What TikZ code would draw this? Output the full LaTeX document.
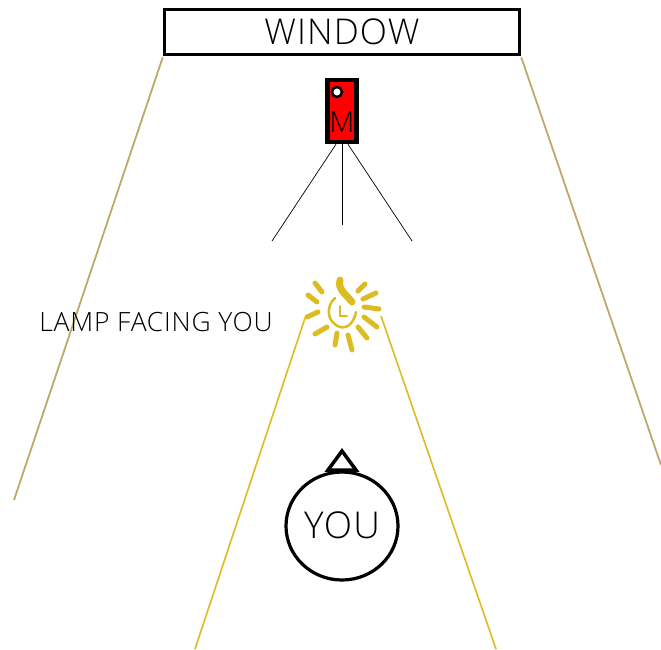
\documentclass[tikz,border=0pt]{standalone}
\usepackage{fontspec}
\setmainfont[LetterSpace=3]{Open Sans Light}
\usepackage{xcolor}
\definecolor{lampyellow}{HTML}{DDBB22}
\definecolor{walltan}{HTML}{BFA86A}
\usetikzlibrary{shapes.geometric}

\begin{document}
\begin{tikzpicture}[
  x=1pt, y=-1pt,
  label text/.style={inner sep=0pt, text=black},
  wall/.style={draw=walltan, line width=1.8pt},
  beam/.style={draw=lampyellow, line width=1.6pt},
  leg/.style={draw=black, line width=0.7pt},
  ray/.style={draw=lampyellow, line width=5pt, line cap=round}
]
\useasboundingbox (0,0) rectangle (661,649);

\node[draw, line width=3.5pt, minimum width=355pt, minimum height=45pt, inner sep=0pt,
  font=\fontsize{35.5}{36}\selectfont, text=black] (window) at (342,32) {WINDOW};

\node[draw, fill=red, line width=4.5pt, minimum width=29pt, minimum height=62pt, inner sep=0pt] (meter) at (342,111) {};
\node[label text, font=\fontsize{29}{29}\selectfont] (mlabel) at (342,122) {M};
\node[circle, draw, fill=white, line width=2.5pt, minimum size=10pt, inner sep=0pt] (lens) at (337,92) {};

% tripod
\coordinate (legl) at (272,241);
\coordinate (legm) at (342,225);
\coordinate (legr) at (412,241);
\draw[leg] (meter.south) ++(-6,0) -- (legl);
\draw[leg] (meter.south) -- (legm);
\draw[leg] (meter.south) ++(6,0) -- (legr);

% walls
\coordinate (walll) at (14,500);
\coordinate (wallr) at (661,465);
\draw[wall] (window.south west) ++(0,1) -- (walll);
\draw[wall] (window.south east) ++(0,1) -- (wallr);

\node[label text, font=\fontsize{26.5}{27}\selectfont, anchor=east] (lamptext) at (273,322) {LAMP FACING YOU};

% lamp
\coordinate (lamp) at (342,312);
\draw[ray] (315,283) -- (322,292);
\draw[ray] (308,295) -- (317,302);
\draw[ray] (307,317) -- (318,312);
\draw[ray] (315,334) -- (327,327);
\draw[ray] (335,345) -- (337,333);
\draw[ray] (352,350) -- (348,335);
\draw[ray] (367,338) -- (358,327);
\draw[ray] (377,327) -- (364,317);
\draw[ray] (379,309) -- (364,307);
\draw[ray] (376,293) -- (363,299);
\draw[ray] (365,284) -- (358,291);
\draw[draw=lampyellow, line width=2.5pt, line cap=round] (335,298) .. controls (326,306) and (326,322) .. (340,327) .. controls (348,329) and (354,322) .. (356,312);
\draw[draw=lampyellow, line width=7pt, line cap=round] (340,280) .. controls (338,290) and (344,292) .. (352,302);
\draw[draw=lampyellow, line width=2pt, line cap=round] (340,306) -- (340,316) -- (347,316);

% beams
\coordinate (beaml) at (195,649);
\coordinate (beamr) at (496,649);
\coordinate (beamstartl) at (305,318);
\coordinate (beamstartr) at (381,316);
\draw[beam] (beamstartl) -- (beaml);
\draw[beam] (beamstartr) -- (beamr);

% you
\node[ellipse, draw, line width=3.2pt, minimum width=112pt, minimum height=108pt, inner sep=0pt] (you) at (342,526) {};
\node[label text, font=\fontsize{37}{37}\selectfont] (youtext) at (342,525) {YOU};
\draw[line width=3.5pt, line join=miter] (342,451) -- (328,470) -- (356,470) -- cycle;
\coordinate (arrowbase) at (342,470);
\draw[line width=1pt] (arrowbase) -- (you.north);
\end{tikzpicture}
\end{document}
